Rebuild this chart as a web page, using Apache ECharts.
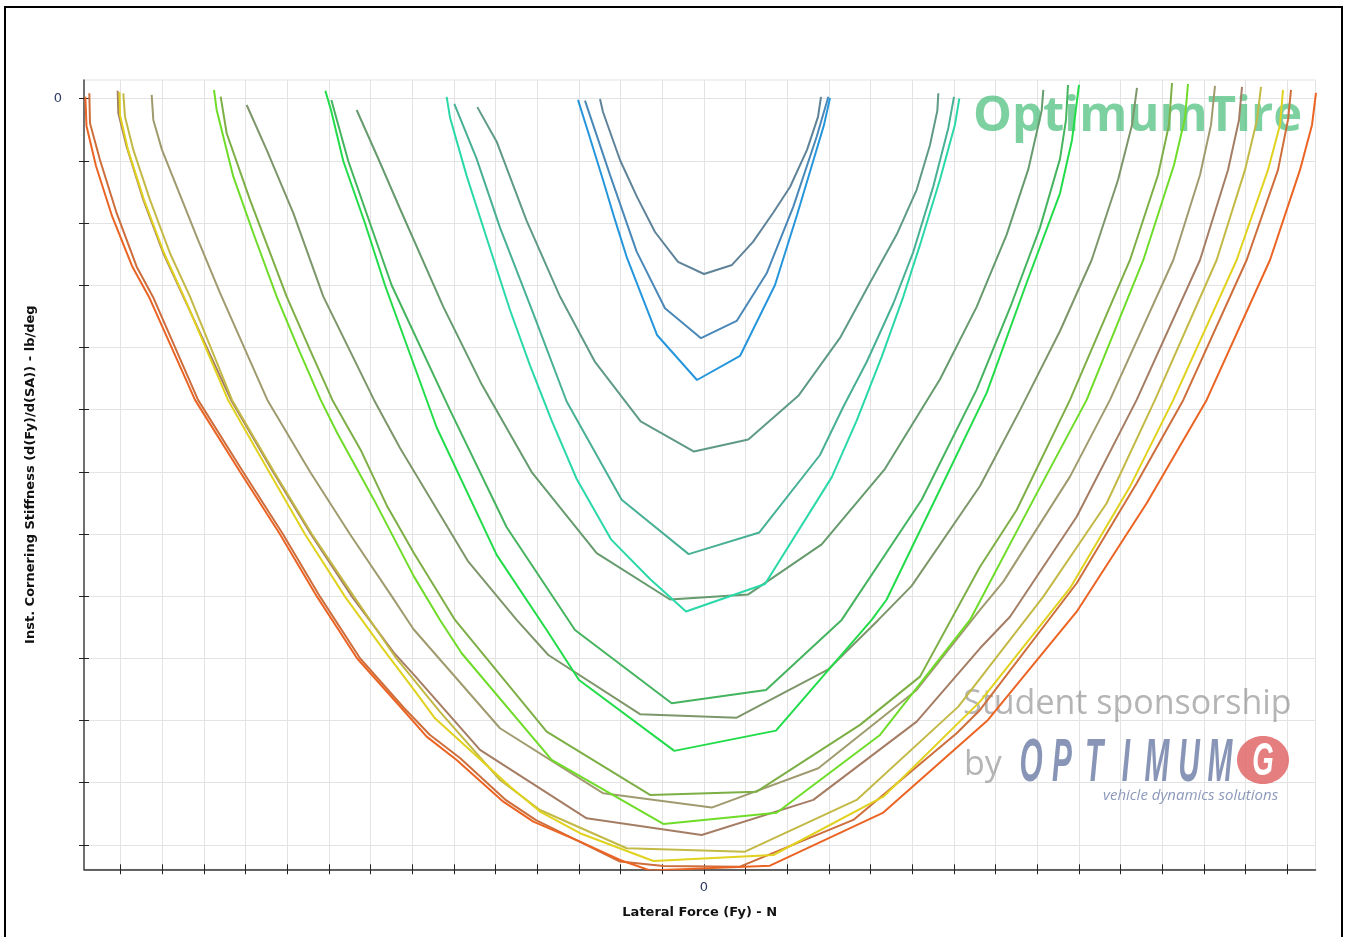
<!DOCTYPE html>
<html>
<head>
<meta charset="utf-8">
<script src="https://cdn.jsdelivr.net/npm/echarts@6/dist/echarts.min.js"></script>
<style>
html,body{margin:0;padding:0;background:#fff;}
#chart{width:1349px;height:937px;}
</style>
</head>
<body>
<div id="chart"></div>
<script>
// ---- axis ticks ----
const xTickValues = [-7000,-6500,-6000,-5500,-5000,-4500,-4000,-3500,-3000,-2500,-2000,-1500,-1000,-500,0,500,1000,1500,2000,2500,3000,3500,4000,4500,5000,5500,6000,6500,7000];
const yTickValues = [0,50,100,150,200,250,300,350,400,450,500,550,600];
const xLabelValues = [0];
const yLabelValues = [0];

// ---- curves: [Lateral Force Fy (N), Inst. cornering stiffness (lb/deg)] ----
const blueDeep = [[-1512,1.0],[-1368,31.6],[-1212,65.4],[-1068,97.5],[-924,128.1],[-564,190.0],[-84,226.2],[432,206.9],[852,149.8],[1116,93.5],[1332,45.3],[1440,21.1],[1512,-0.6]];
const blueMid = [[-1428,1.6],[-1128,61.3],[-808,123.0],[-468,168.5],[-36,192.6],[392,178.7],[752,140.4],[1072,86.8],[1352,30.6],[1492,-1.6]];
const blueLow = [[-1248,0.2],[-1212,10.7],[-1008,49.3],[-804,79.0],[-588,107.2],[-312,131.3],[0,141.0],[336,133.7],[588,115.2],[828,91.9],[1032,71.0],[1236,41.2],[1368,14.7],[1404,-1.4]];

const tealDeep = [[-3088,-1.4],[-3048,15.1],[-2848,62.1],[-2608,112.0],[-2328,169.9],[-2088,214.5],[-1828,258.8],[-1528,305.8],[-1116,354.3],[-648,386.2],[-216,412.3],[732,390.2],[1532,304.5],[1832,258.8],[2132,207.6],[2392,159.1],[2592,117.6],[2832,65.0],[3012,20.7],[3064,-0.1]];
const tealMid = [[-2996,4.1],[-2728,48.4],[-2448,103.7],[-2048,172.9],[-1648,243.5],[-988,322.5],[-184,366.2],[664,348.8],[1392,286.5],[1672,247.7],[1952,211.7],[2272,164.7],[2512,123.1],[2752,70.5],[2932,23.5],[3000,-1.4]];
const tealLow = [[-2720,6.8],[-2488,34.6],[-2128,98.2],[-1728,159.1],[-1308,211.7],[-760,259.4],[-120,283.7],[532,274.0],[1132,238.9],[1632,192.4],[1992,148.0],[2312,109.3],[2552,73.3],[2712,37.3],[2800,9.6],[2812,-4.3]];

const greenDeep = [[-4544,-6.4],[-4476,9.1],[-4328,50.3],[-4068,100.2],[-3828,150.0],[-3208,264.4],[-2488,366.8],[-1888,427.2],[-1500,467.4],[-356,524.4],[864,508.1],[2012,419.1],[2192,402.7],[2832,314.2],[3392,236.6],[3872,148.0],[4272,76.1],[4416,33.2],[4500,-11.0]];
const greenMid = [[-4472,1.0],[-4268,50.3],[-4008,100.2],[-3748,150.0],[-3048,250.4],[-2368,344.6],[-1548,427.2],[-388,486.1],[744,475.4],[1652,419.1],[2612,322.5],[3272,233.9],[3692,164.7],[4032,103.7],[4272,48.4],[4344,17.1],[4368,-11.0]];
const greenLow = [[-4168,9.1],[-3912,47.7],[-3648,88.5],[-3128,167.4],[-2668,229.7],[-2068,300.2],[-1288,365.4],[-408,402.7],[532,398.6],[1412,358.4],[2172,297.6],[2832,225.6],[3272,167.4],[3632,109.3],[3892,56.7],[4052,9.6],[4072,-7.0]];

const limeDeep = [[-5880,-7.0],[-5848,9.1],[-5648,62.7],[-5408,108.2],[-5128,159.2],[-4872,200.4],[-4600,242.2],[-4400,269.0],[-3960,322.6],[-3480,384.3],[-3168,419.1],[-2908,445.9],[-1828,531.7],[-488,583.1],[872,574.1],[2112,511.6],[3192,419.1],[3952,322.6],[4592,242.2],[5272,129.7],[5640,53.3],[5772,15.5],[5808,-11.8]];
const limeMid = [[-5800,-1.6],[-5728,27.8],[-5448,81.4],[-5008,159.2],[-4728,202.0],[-4460,242.2],[-4120,282.4],[-3800,328.0],[-3480,365.5],[-2988,419.1],[-1888,508.9],[-648,559.8],[632,557.2],[1872,503.5],[2592,464.7],[3312,376.3],[3752,330.7],[4392,242.2],[5112,129.7],[5448,61.4],[5580,21.1],[5616,-12.6]];
const limeLow = [[-5488,5.1],[-5248,41.2],[-4928,92.1],[-4568,159.2],[-4272,199.6],[-3960,242.2],[-3648,280.8],[-2828,372.3],[-2248,419.1],[-1868,447.3],[-768,494.9],[392,497.7],[1492,458.8],[2092,419.1],[2492,391.7],[3312,311.4],[3792,250.4],[4272,186.8],[4652,129.7],[4968,65.4],[5136,21.1],[5196,-8.6]];

const yellowDeep = [[-7014,-5.4],[-7008,13.1],[-6912,41.2],[-6720,81.4],[-6480,124.1],[-6240,159.4],[-5712,242.2],[-5220,299.9],[-4788,350.2],[-4308,400.4],[-3888,439.2],[-3480,475.4],[-3228,498.2],[-2328,553.1],[-1968,573.2],[-1488,590.6],[-608,612.9],[832,608.1],[2152,561.2],[3312,484.8],[4392,393.6],[5112,311.9],[5632,242.2],[6392,129.7],[6768,57.3],[6912,21.1],[6948,-7.0]];
const yellowMid = [[-6968,-4.3],[-6948,14.5],[-6848,41.2],[-6648,81.4],[-6408,124.3],[-6168,159.2],[-5664,242.2],[-5160,299.9],[-4704,350.2],[-4200,400.4],[-3696,449.7],[-3168,493.1],[-2448,547.8],[-1968,571.9],[-928,602.7],[492,605.4],[1832,563.8],[3052,488.8],[4072,400.4],[4832,325.3],[5412,242.2],[6152,129.7],[6492,57.3],[6636,17.1],[6684,-9.4]];
const yellowLow = [[-6628,-3.0],[-6608,17.1],[-6504,41.2],[-6312,73.4],[-6072,113.6],[-5808,156.2],[-5240,242.2],[-4728,299.9],[-4248,350.2],[-3744,400.4],[-3488,426.4],[-2448,506.2],[-1208,558.5],[92,570.0],[1372,538.4],[2552,475.4],[3312,411.1],[3592,388.3],[4392,303.9],[4872,242.2],[5632,129.7],[5952,61.4],[6084,21.1],[6132,-10.2]];

const orangeDeep = [[-7424,-1.6],[-7410,21.9],[-7296,54.1],[-7104,94.3],[-6864,134.5],[-6660,159.4],[-6108,242.2],[-5568,299.9],[-5088,350.2],[-4644,400.4],[-4164,449.9],[-3888,470.6],[-3628,490.1],[-3328,512.9],[-2968,531.7],[-2408,565.2],[-2048,581.3],[-1488,597.4],[-1008,612.1],[-648,620.5],[792,616.7],[2152,574.0],[3408,499.5],[4472,412.5],[5312,325.3],[6032,242.2],[6792,129.7],[7152,57.3],[7296,21.1],[7344,-4.6]];
const orangeMid = [[-7376,-4.3],[-7368,19.8],[-7248,49.3],[-7048,92.1],[-6808,135.1],[-6612,159.4],[-6072,242.2],[-5532,299.9],[-5052,350.2],[-4608,400.4],[-4128,449.9],[-3600,489.9],[-3288,511.6],[-2928,530.1],[-2376,564.0],[-2016,580.0],[-1008,613.4],[-488,616.9],[432,617.5],[1792,579.9],[3032,510.2],[3312,491.5],[4472,389.6],[5192,309.2],[5752,242.2],[6512,129.7],[6888,57.3],[7008,17.1],[7044,-7.0]];
const orangeLow = [[-7036,-6.4],[-7028,11.7],[-6928,38.6],[-6728,81.4],[-6488,124.3],[-6248,159.2],[-5676,242.2],[-5172,299.9],[-4716,350.2],[-4224,400.4],[-3720,445.6],[-3480,463.3],[-2688,523.6],[-1408,578.6],[-28,592.0],[1312,563.8],[2552,500.9],[3312,441.9],[3672,416.5],[4472,336.1],[5192,242.2],[5952,129.7],[6288,57.3],[6420,17.1],[6456,-9.4]];

const curveData = [orangeLow, orangeMid, orangeDeep, yellowLow, yellowMid, yellowDeep, limeLow, limeMid, limeDeep, greenLow, greenMid, greenDeep, tealLow, tealMid, tealDeep, blueLow, blueMid, blueDeep];
const curveColors = ['#a57d64','#cd6e3c','#eb6423','#a09b6e','#c3b946','#e0d21e','#7d966a','#7daf46','#6edc28','#669b6e','#45b45e','#22dc4a','#5f9a88','#48b095','#2ad8a8','#5f8399','#4a88b8','#2596dc'];

const xMin = -7440, xMax = 7338, yMin = -15, yMax = 619.6;

const chart = echarts.init(document.getElementById('chart'), null, {renderer: 'canvas'});

const series = curveData.map((d, i) => ({
  type: 'line',
  data: d,
  xAxisIndex: 0,
  yAxisIndex: 0,
  showSymbol: false,
  symbol: 'none',
  smooth: false,
  lineStyle: {width: 2, color: curveColors[i]},
  itemStyle: {color: curveColors[i]},
  z: 3,
  silent: true
}));

const nameStyle = {fontFamily: 'DejaVu Sans', fontWeight: 'bold', fontSize: 13, color: '#111'};
const labelStyle = {fontFamily: 'DejaVu Sans', fontSize: 13, color: '#2f3b66'};

const optimumLetters = ['O','P','T','I','M','U','M'];
const letterCenters = [1031, 1062, 1094, 1126, 1157, 1189, 1220];

const graphics = [
  {type: 'text', x: 973, y: 117, z: 1, silent: true,
   style: {text: 'OptimumTire', font: 'bold 49px "Open Sans"', fill: 'rgba(70,190,120,0.7)', align: 'left', verticalAlign: 'middle'}},
  {type: 'text', x: 963, y: 704, z: 1, silent: true,
   style: {text: 'Student sponsorship', font: '34px "Open Sans"', fill: 'rgba(120,120,120,0.55)', align: 'left', verticalAlign: 'middle'}},
  {type: 'text', x: 964, y: 765, z: 1, silent: true,
   style: {text: 'by', font: '34px "Open Sans"', fill: 'rgba(120,120,120,0.55)', align: 'left', verticalAlign: 'middle'}},
  {type: 'text', x: 1103, y: 796, z: 1, silent: true,
   style: {text: 'vehicle dynamics solutions', font: 'italic 15px "Open Sans"', fill: 'rgba(120,135,175,0.85)', align: 'left', verticalAlign: 'middle'}},
  {type: 'ellipse', shape: {cx: 1263, cy: 760, rx: 26, ry: 24}, z: 1, silent: true,
   style: {fill: 'rgba(222,95,95,0.8)'}},
  {type: 'text', x: 1263, y: 762, z: 1, silent: true, scaleX: 0.6,
   style: {text: 'G', font: 'italic bold 46px "Liberation Sans"', fill: '#ffffff', align: 'center', verticalAlign: 'middle'}},
  {type: 'rect', shape: {x: 5, y: 7, width: 1337, height: 990}, z: 100, silent: true,
   style: {fill: 'none', stroke: '#000', lineWidth: 2}}
];
optimumLetters.forEach((ch, i) => {
  graphics.push({type: 'text', x: letterCenters[i], y: 764, z: 1, silent: true, scaleX: 0.48,
    style: {text: ch, font: 'italic bold 62px "Liberation Sans"', fill: 'rgba(115,130,170,0.85)', align: 'center', verticalAlign: 'middle'}});
});

const option = {
  animation: false,
  backgroundColor: '#ffffff',
  grid: {left: 84, top: 80, width: 1231.5, height: 789.3, show: true, borderColor: '#e3e3e3', borderWidth: 1, backgroundColor: 'transparent', containLabel: false, outerBoundsMode: 'none'},
  xAxis: [{
    type: 'value', min: xMin, max: xMax, position: 'bottom',
    axisLine: {show: true, onZero: false, lineStyle: {color: '#333', width: 1.5}},
    axisTick: {show: true, inside: false, length: 5, customValues: xTickValues, lineStyle: {color: '#222', width: 1}},
    axisLabel: {show: true, customValues: xLabelValues, margin: 12, ...labelStyle},
    splitLine: {show: true, lineStyle: {color: '#e3e3e3', width: 1}},
    name: 'Lateral Force (Fy) - N', nameLocation: 'middle', nameGap: 37, nameMoveOverlap: false,
    nameTextStyle: nameStyle
  }, {
    type: 'value', min: xMin, max: xMax, position: 'bottom',
    axisLine: {show: false, onZero: false},
    axisTick: {show: true, inside: true, length: 5, customValues: xTickValues, lineStyle: {color: '#222', width: 1}},
    axisLabel: {show: false},
    splitLine: {show: false}
  }],
  yAxis: [{
    type: 'value', inverse: true, min: yMin, max: yMax, position: 'left',
    axisLine: {show: true, onZero: false, lineStyle: {color: '#444', width: 1.5}},
    axisTick: {show: true, inside: false, length: 5, customValues: yTickValues, lineStyle: {color: '#222', width: 1}},
    axisLabel: {show: true, customValues: yLabelValues, margin: 22, ...labelStyle},
    splitLine: {show: true, lineStyle: {color: '#e3e3e3', width: 1}},
    name: 'Inst. Cornering Stiffness (d(Fy)/d(SA)) - lb/deg', nameLocation: 'middle', nameGap: 47, nameRotate: 90, nameMoveOverlap: false,
    nameTextStyle: nameStyle
  }, {
    type: 'value', inverse: true, min: yMin, max: yMax, position: 'left',
    axisLine: {show: false, onZero: false},
    axisTick: {show: true, inside: true, length: 5, customValues: yTickValues, lineStyle: {color: '#222', width: 1}},
    axisLabel: {show: false},
    splitLine: {show: false}
  }],
  graphic: {elements: graphics},
  series: series
};
chart.setOption(option);
</script>
</body>
</html>
